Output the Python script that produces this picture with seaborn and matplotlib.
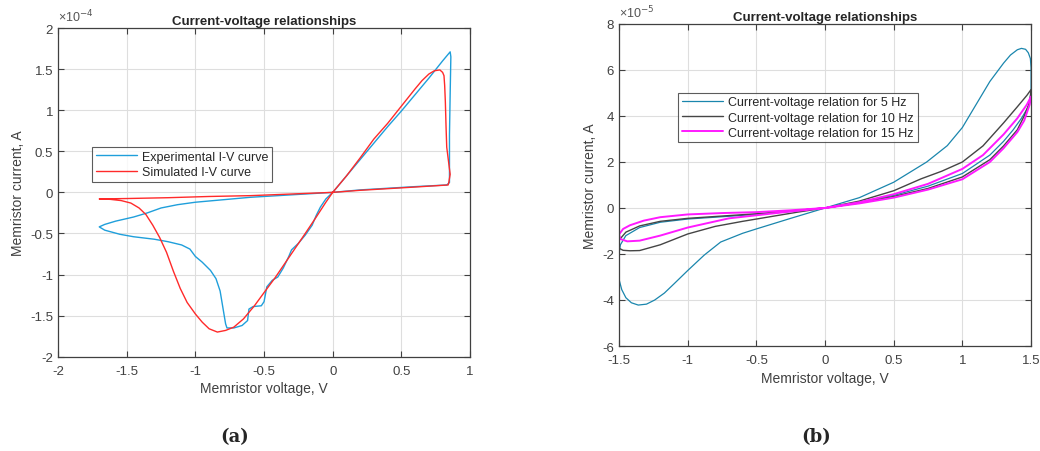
import numpy as np
import pandas as pd
import matplotlib
matplotlib.use("Agg")
import matplotlib.pyplot as plt
import seaborn as sns
from matplotlib.ticker import FuncFormatter, MultipleLocator

# ---- panel (a): current in units of 1e-4 A ----
exp_v = [0.0, 0.1, 0.2, 0.3, 0.4, 0.5, 0.6, 0.7, 0.8, 0.84, 0.855, 0.86, 0.855, 0.85, 0.85, 0.85,
         0.83, 0.6, 0.4, 0.2, 0.0, -0.2, -0.4, -0.6, -0.8, -1.0, -1.13, -1.25, -1.35, -1.45, -1.58,
         -1.66, -1.70, -1.66, -1.55, -1.45, -1.3, -1.2, -1.1, -1.04, -1.0, -0.95, -0.89, -0.85,
         -0.82, -0.80, -0.78, -0.77, -0.72, -0.66, -0.62, -0.61, -0.58, -0.52, -0.50, -0.48, -0.44,
         -0.40, -0.36, -0.32, -0.30, -0.25, -0.20, -0.15, -0.12, -0.09, -0.05, 0.0]
exp_i = [0.0, 0.2, 0.4, 0.6, 0.8, 0.99, 1.19, 1.39, 1.6, 1.68, 1.71, 1.65, 1.2, 0.7, 0.3, 0.12,
         0.09, 0.07, 0.05, 0.03, 0.0, -0.02, -0.04, -0.06, -0.09, -0.12, -0.15, -0.19, -0.25, -0.3,
         -0.35, -0.39, -0.42, -0.46, -0.51, -0.54, -0.57, -0.6, -0.64, -0.69, -0.78, -0.85, -0.95,
         -1.05, -1.2, -1.4, -1.6, -1.65, -1.65, -1.62, -1.56, -1.42, -1.39, -1.38, -1.33, -1.15,
         -1.07, -1.03, -0.92, -0.78, -0.70, -0.62, -0.52, -0.40, -0.28, -0.18, -0.08, 0.0]

sim_v = [0.0, 0.1, 0.2, 0.3, 0.4, 0.5, 0.6, 0.65, 0.7, 0.74, 0.78, 0.8, 0.81, 0.815, 0.82, 0.825,
         0.83, 0.845, 0.855, 0.845, 0.84, 0.6, 0.4, 0.2, 0.0, -0.3, -0.6, -0.9, -1.2, -1.5, -1.70,
         -1.62, -1.54, -1.47, -1.41, -1.36, -1.31, -1.26, -1.21, -1.16, -1.11, -1.06, -1.0, -0.95,
         -0.9, -0.84, -0.78, -0.72, -0.65, -0.57, -0.5, -0.42, -0.31, -0.2, -0.12, -0.05, 0.0]
sim_i = [0.0, 0.2, 0.42, 0.65, 0.84, 1.05, 1.26, 1.36, 1.44, 1.48, 1.49, 1.46, 1.42, 1.3, 1.1, 0.8,
         0.55, 0.35, 0.22, 0.12, 0.09, 0.065, 0.045, 0.025, 0.0, -0.02, -0.04, -0.05, -0.065, -0.075,
         -0.08, -0.085, -0.1, -0.13, -0.19, -0.27, -0.4, -0.55, -0.73, -0.96, -1.17, -1.34, -1.48,
         -1.58, -1.66, -1.70, -1.68, -1.64, -1.54, -1.38, -1.22, -1.04, -0.77, -0.5, -0.3, -0.12, 0.0]

# ---- panel (b): current in units of 1e-5 A ----
v5 = [0.0, 0.25, 0.5, 0.74, 0.89, 1.0, 1.1, 1.2, 1.3, 1.35, 1.4, 1.43, 1.46, 1.48, 1.495, 1.5,
      1.5, 1.5, 1.48, 1.43, 1.37, 1.3, 1.2, 1.0, 0.75, 0.5, 0.25, 0.0, -0.25, -0.5, -0.75, -1.0,
      -1.2, -1.35, -1.45, -1.49, -1.5, -1.5, -1.5, -1.48, -1.45, -1.41, -1.36, -1.3, -1.24, -1.17,
      -1.1, -1.0, -0.88, -0.76, -0.6, -0.5, -0.25, 0.0]
i5 = [0.0, 0.45, 1.12, 2.0, 2.71, 3.5, 4.5, 5.5, 6.3, 6.65, 6.88, 6.94, 6.9, 6.75, 6.5, 6.1,
      5.5, 5.0, 4.4, 3.9, 3.4, 2.9, 2.3, 1.5, 0.95, 0.55, 0.25, 0.0, -0.15, -0.28, -0.38, -0.48,
      -0.62, -0.85, -1.2, -1.6, -2.0, -2.6, -3.1, -3.55, -3.9, -4.12, -4.22, -4.18, -4.0, -3.7,
      -3.3, -2.72, -2.05, -1.48, -1.1, -0.91, -0.45, 0.0]

v10 = [0.0, 0.25, 0.5, 0.7, 0.85, 1.0, 1.15, 1.3, 1.4, 1.47, 1.5, 1.49, 1.45, 1.4, 1.3, 1.2, 1.0,
       0.75, 0.5, 0.25, 0.0, -0.25, -0.5, -0.75, -1.0, -1.2, -1.35, -1.45, -1.5, -1.5, -1.47, -1.42,
       -1.35, -1.2, -1.0, -0.8, -0.6, -0.4, -0.2, 0.0]
i10 = [0.0, 0.3, 0.75, 1.27, 1.6, 2.0, 2.7, 3.7, 4.4, 4.9, 5.15, 4.6, 4.0, 3.4, 2.7, 2.1, 1.35,
       0.85, 0.5, 0.22, 0.0, -0.13, -0.25, -0.35, -0.45, -0.58, -0.78, -1.05, -1.4, -1.75, -1.84,
       -1.86, -1.85, -1.6, -1.13, -0.8, -0.58, -0.38, -0.18, 0.0]

v15 = [0.0, 0.25, 0.5, 0.75, 1.0, 1.15, 1.3, 1.4, 1.47, 1.5, 1.49, 1.45, 1.4, 1.3, 1.2, 1.0, 0.75,
       0.5, 0.25, 0.0, -0.25, -0.5, -0.75, -1.0, -1.2, -1.32, -1.42, -1.47, -1.5, -1.49, -1.44,
       -1.35, -1.2, -1.0, -0.7, -0.4, -0.2, 0.0]
i15 = [0.0, 0.25, 0.6, 1.05, 1.7, 2.3, 3.2, 3.9, 4.5, 4.85, 4.5, 3.8, 3.3, 2.6, 2.0, 1.25, 0.8,
       0.45, 0.2, 0.0, -0.1, -0.18, -0.22, -0.28, -0.4, -0.55, -0.75, -0.91, -1.15, -1.35, -1.45,
       -1.42, -1.2, -0.85, -0.45, -0.25, -0.12, 0.0]

sns.set_style("whitegrid")
plt.rcParams["font.family"] = ["Liberation Sans", "DejaVu Sans"]
plt.rcParams["axes.unicode_minus"] = False

fig = plt.figure(figsize=(10.4, 4.52), dpi=100)
ax1 = fig.add_axes([0.0558, 0.2086, 0.3962, 0.7272])
ax2 = fig.add_axes([0.5952, 0.2323, 0.3962, 0.7124])

def num(v):
    return f"{v + 0.0:g}"

def style(ax, scale, expo):
    ax.set_facecolor("white")
    ax.grid(True, color="#dedede", linewidth=0.8)
    for s in ax.spines.values():
        s.set_color("#404040")
        s.set_linewidth(0.9)
        s.set_visible(True)
    ax.tick_params(direction="in", length=4, color="#404040", labelcolor="#404040",
                   labelsize=9.5, top=True, right=True, left=True, bottom=True,
                   labeltop=False, labelright=False)
    ax.tick_params(axis="x", pad=6)
    ax.xaxis.set_major_formatter(FuncFormatter(lambda v, p: num(round(v, 3))))
    ax.yaxis.set_major_formatter(FuncFormatter(lambda v, p: num(round(v / scale, 3))))
    ax.text(0.0, 1.012, "\u00d710$^{" + expo + "}$", transform=ax.transAxes,
            fontsize=9, color="#555555", ha="left", va="bottom")
    ax.set_title("Current-voltage relationships", fontsize=9.5, fontweight="bold", pad=3)
    ax.set_xlabel("Memristor voltage, V", fontsize=10, color="#404040", labelpad=3)
    ax.set_ylabel("Memristor current, A", fontsize=10, color="#404040", labelpad=4)

def legend(ax, anchor):
    leg = ax.legend(loc="upper left", bbox_to_anchor=anchor, fontsize=9,
                    frameon=True, fancybox=False, borderpad=0.3, labelspacing=0.25,
                    handlelength=3.3, handletextpad=0.4)
    leg.get_frame().set_edgecolor("#333333")
    leg.get_frame().set_linewidth(0.8)

# panel (a)
sns.lineplot(x=exp_v, y=np.array(exp_i) * 1e-4, sort=False, estimator=None, ax=ax1,
             color="#1f9fdb", linewidth=1.0, label="Experimental I-V curve")
sns.lineplot(x=sim_v, y=np.array(sim_i) * 1e-4, sort=False, estimator=None, ax=ax1,
             color="#ff2a2a", linewidth=1.0, label="Simulated I-V curve")
ax1.set_xlim(-2, 1)
ax1.set_ylim(-2e-4, 2e-4)
ax1.xaxis.set_major_locator(MultipleLocator(0.5))
ax1.yaxis.set_major_locator(MultipleLocator(0.5e-4))
style(ax1, 1e-4, "-4")
legend(ax1, (0.068, 0.657))

# panel (b)
sns.lineplot(x=v5, y=np.array(i5) * 1e-5, sort=False, estimator=None, ax=ax2,
             color="#1a86ad", linewidth=0.9, label="Current-voltage relation for 5 Hz")
sns.lineplot(x=v10, y=np.array(i10) * 1e-5, sort=False, estimator=None, ax=ax2,
             color="#454545", linewidth=1.0, label="Current-voltage relation for 10 Hz")
sns.lineplot(x=v15, y=np.array(i15) * 1e-5, sort=False, estimator=None, ax=ax2,
             color="#ff1aff", linewidth=1.4, label="Current-voltage relation for 15 Hz")
ax2.set_xlim(-1.5, 1.5)
ax2.set_ylim(-6e-5, 8e-5)
ax2.xaxis.set_major_locator(MultipleLocator(0.5))
ax2.yaxis.set_major_locator(MultipleLocator(2e-5))
style(ax2, 1e-5, "-5")
legend(ax2, (0.129, 0.806))

fig.text(0.226, 0.033, "(a)", ha="center", va="center", fontsize=13,
         fontweight="bold", family=["DejaVu Serif"])
fig.text(0.785, 0.033, "(b)", ha="center", va="center", fontsize=13,
         fontweight="bold", family=["DejaVu Serif"])

fig.savefig("out.png", dpi=100)
